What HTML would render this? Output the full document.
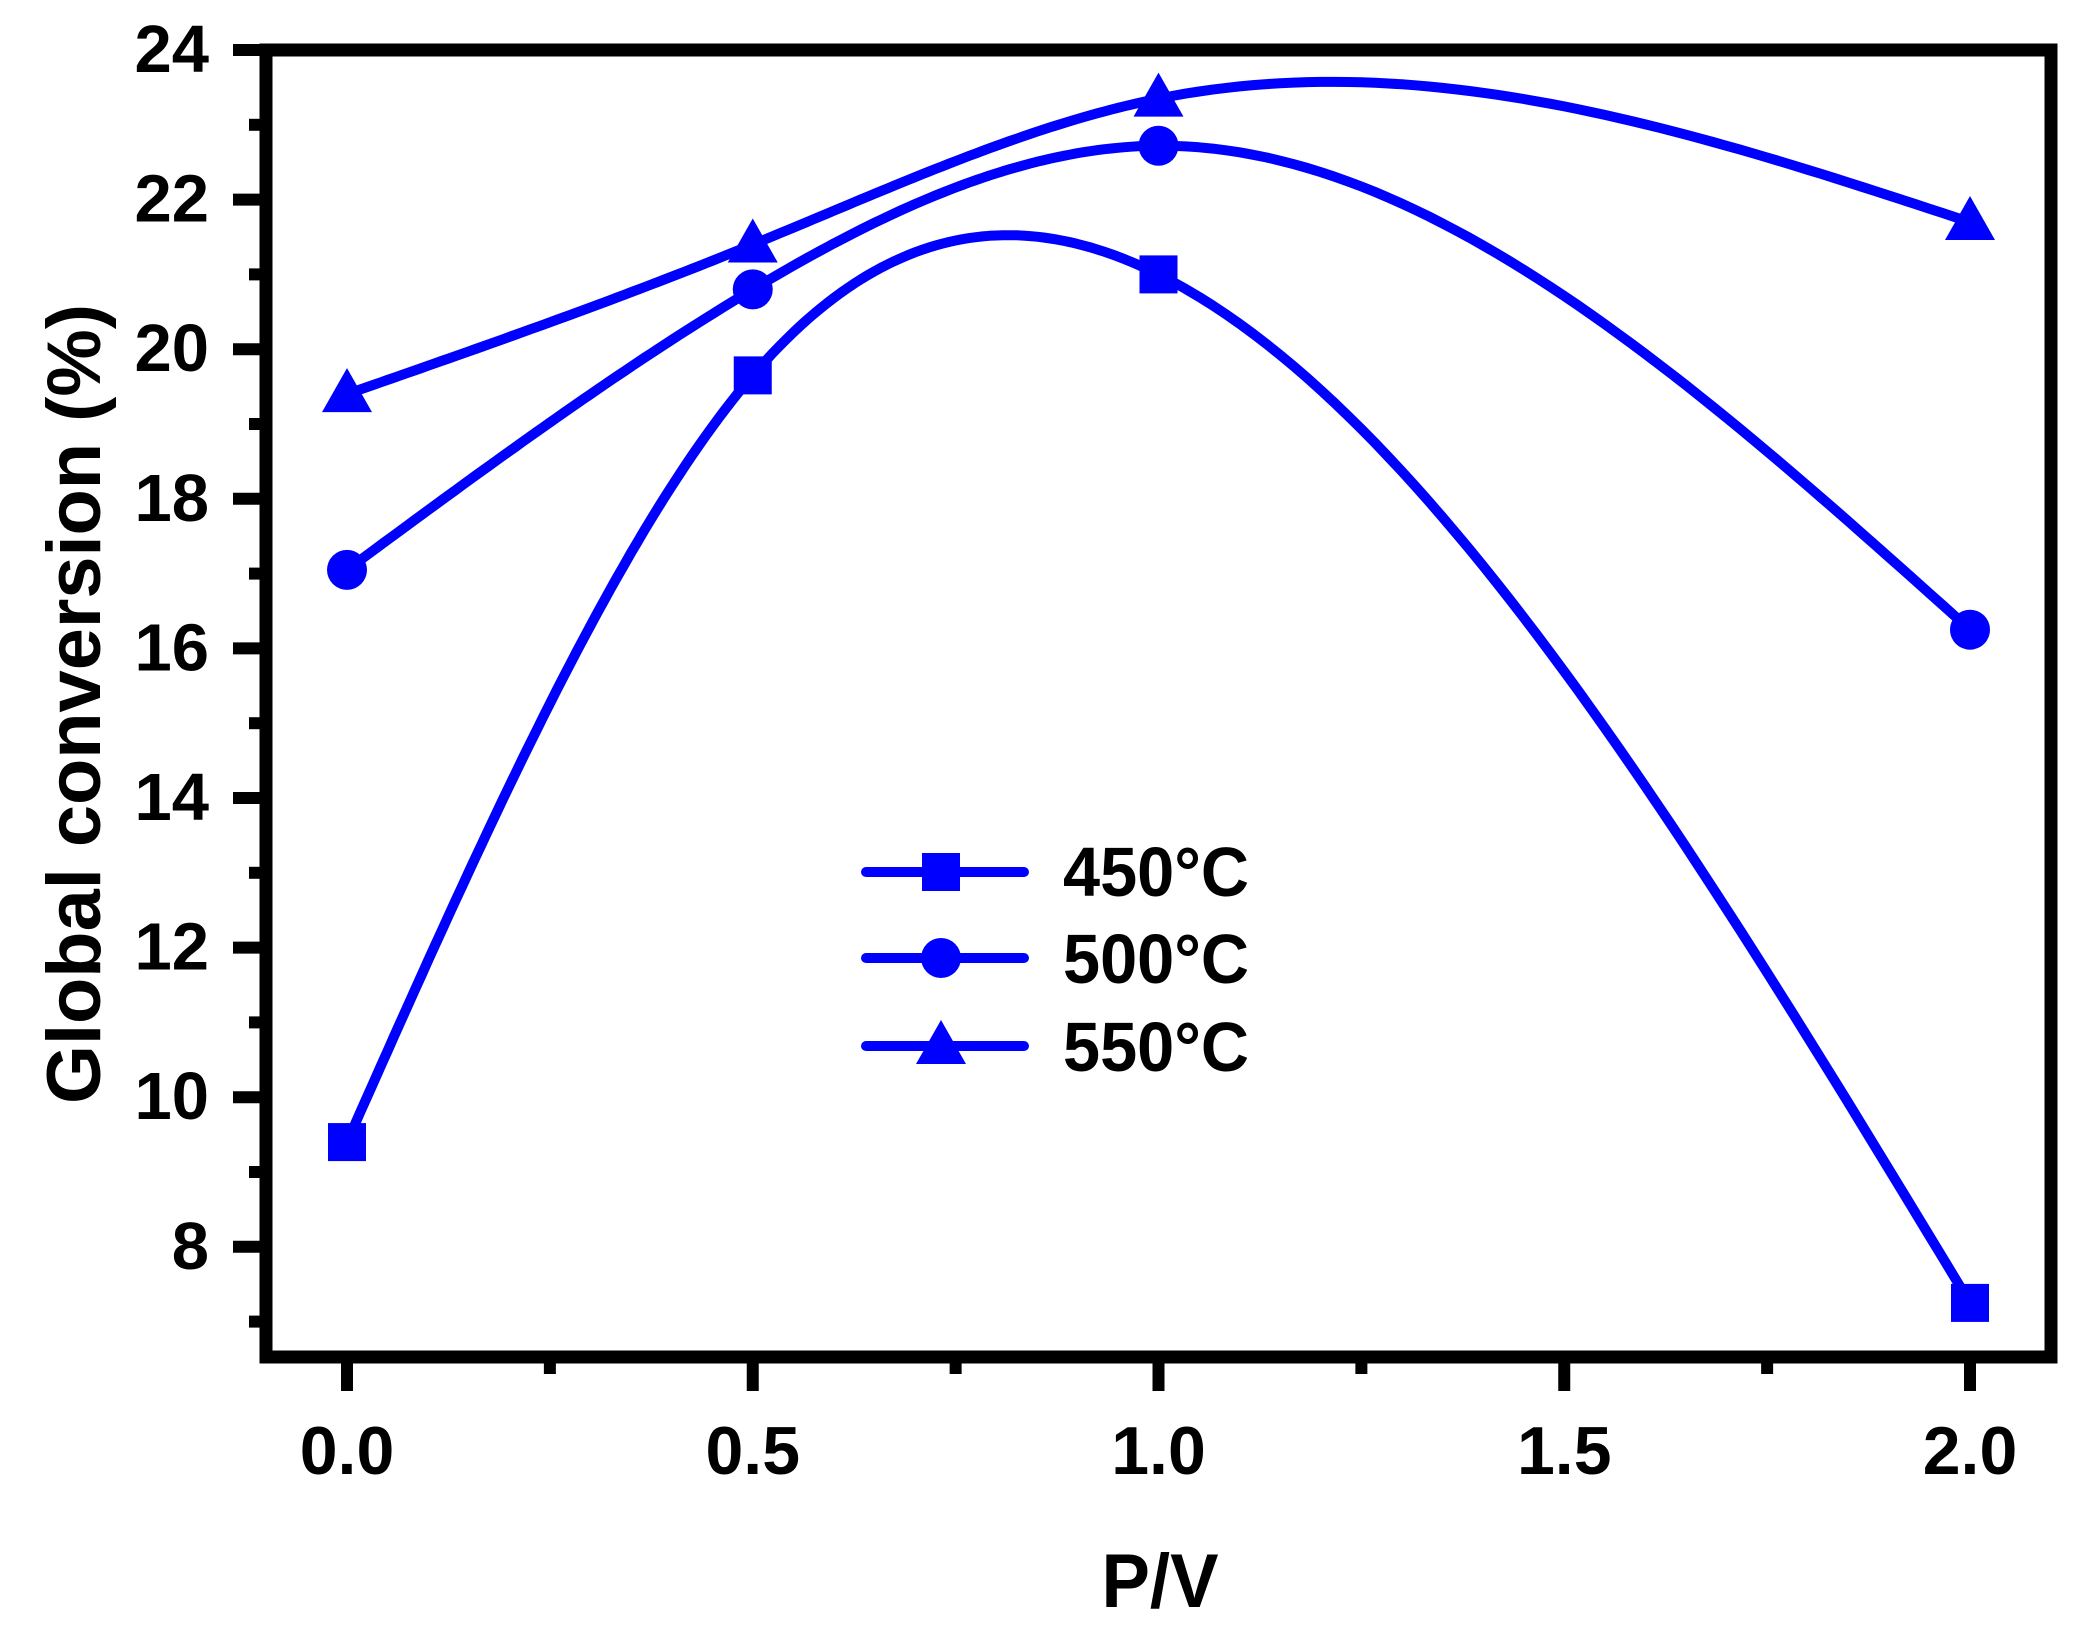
<!DOCTYPE html>
<html><head><meta charset="utf-8"><style>
html,body{margin:0;padding:0;background:#fff;}
svg{display:block;}
text{font-family:"Liberation Sans",Arial,sans-serif;font-weight:bold;fill:#000;}
</style></head><body>
<svg id="s" width="2080" height="1639" viewBox="0 0 2080 1639" xmlns="http://www.w3.org/2000/svg">
<g id="curves" fill="none" stroke="#0000ff" stroke-width="10" stroke-linejoin="round"></g>
<g id="marks" fill="#0000ff"></g>
<rect x="266" y="50" width="1785" height="1307" fill="none" stroke="#000" stroke-width="13"/>
<g id="ticks" stroke="#000" stroke-width="12"></g>
<g id="labels" font-size="67"></g>
<text x="1160" y="1607" font-size="76" text-anchor="middle" textLength="117" lengthAdjust="spacingAndGlyphs">P/V</text>
<text transform="translate(100,704) rotate(-90)" font-size="76" text-anchor="middle" textLength="800" lengthAdjust="spacingAndGlyphs">Global conversion (%)</text>
<g stroke="#0000ff" stroke-width="10" stroke-linecap="round">
<line x1="866" y1="872" x2="1024" y2="872"/>
<line x1="866" y1="958" x2="1024" y2="958"/>
<line x1="866" y1="1046" x2="1024" y2="1046"/>
</g>
<g fill="#0000ff">
<rect x="922" y="853" width="38" height="38"/>
<circle cx="941" cy="958" r="20"/>
<polygon points="941,1020 966,1064 916,1064"/>
</g>
<g font-size="70">
<text x="1063" y="896" textLength="186" lengthAdjust="spacingAndGlyphs">450°C</text>
<text x="1063" y="983" textLength="186" lengthAdjust="spacingAndGlyphs">500°C</text>
<text x="1063" y="1071" textLength="186" lengthAdjust="spacingAndGlyphs">550°C</text>
</g>
</svg>
<script>
var NS="http://www.w3.org/2000/svg";
function X(x){return 347+x*811.5;}
function Y(y){return 50+(24-y)*74.8;}
function el(p,t,a){var e=document.createElementNS(NS,t);for(var k in a)e.setAttribute(k,a[k]);document.getElementById(p).appendChild(e);return e;}
[0,0.5,1,1.5,2].forEach(function(v){el("ticks","line",{x1:X(v),y1:1363,x2:X(v),y2:1391});
 var t=el("labels","text",{x:X(v),y:1474,"text-anchor":"middle","font-size":68});t.textContent=v.toFixed(1);});
[0.25,0.75,1.25,1.75].forEach(function(v){el("ticks","line",{x1:X(v),y1:1363,x2:X(v),y2:1374});});
for(var v=8;v<=24;v+=2){el("ticks","line",{x1:233,y1:Y(v),x2:260,y2:Y(v)});
 var t=el("labels","text",{x:209,y:Y(v)+22,"text-anchor":"end"});t.textContent=v;}
for(var v=7;v<=23;v+=2){el("ticks","line",{x1:249,y1:Y(v),x2:260,y2:Y(v)});}
function spline(xs,ys){var n=xs.length,h=[],a=[],l=[1],mu=[0],z=[0],c=[],b=[],d=[];
 for(var i=0;i<n-1;i++)h[i]=xs[i+1]-xs[i];
 for(var i=1;i<n-1;i++)a[i]=3/h[i]*(ys[i+1]-ys[i])-3/h[i-1]*(ys[i]-ys[i-1]);
 for(var i=1;i<n-1;i++){l[i]=2*(xs[i+1]-xs[i-1])-h[i-1]*mu[i-1];mu[i]=h[i]/l[i];z[i]=(a[i]-h[i-1]*z[i-1])/l[i];}
 l[n-1]=1;z[n-1]=0;c[n-1]=0;
 for(var j=n-2;j>=0;j--){c[j]=z[j]-mu[j]*c[j+1];b[j]=(ys[j+1]-ys[j])/h[j]-h[j]*(c[j+1]+2*c[j])/3;d[j]=(c[j+1]-c[j])/(3*h[j]);}
 var pts=[];for(var i=0;i<n-1;i++){for(var k=0;k<=60;k++){var t=h[i]*k/60;var y=ys[i]+b[i]*t+c[i]*t*t+d[i]*t*t*t;pts.push(X(xs[i]+t).toFixed(1)+","+Y(y).toFixed(1));}}
 return "M"+pts.join(" L");}
var xs=[0,0.5,1,2];
var S=[[9.4,19.65,21.0,7.25],[17.05,20.8,22.72,16.25],[19.4,21.4,23.35,21.7]];
S.forEach(function(ys,si){el("curves","path",{d:spline(xs,ys)});
 xs.forEach(function(x,i){var cx=X(x),cy=Y(ys[i]);
  if(si==0)el("marks","rect",{x:cx-19,y:cy-19,width:38,height:38});
  else if(si==1)el("marks","circle",{cx:cx,cy:cy,r:20});
  else el("marks","polygon",{points:cx+","+(cy-26)+" "+(cx+25)+","+(cy+18)+" "+(cx-25)+","+(cy+18)});});});
</script>
</body></html>
